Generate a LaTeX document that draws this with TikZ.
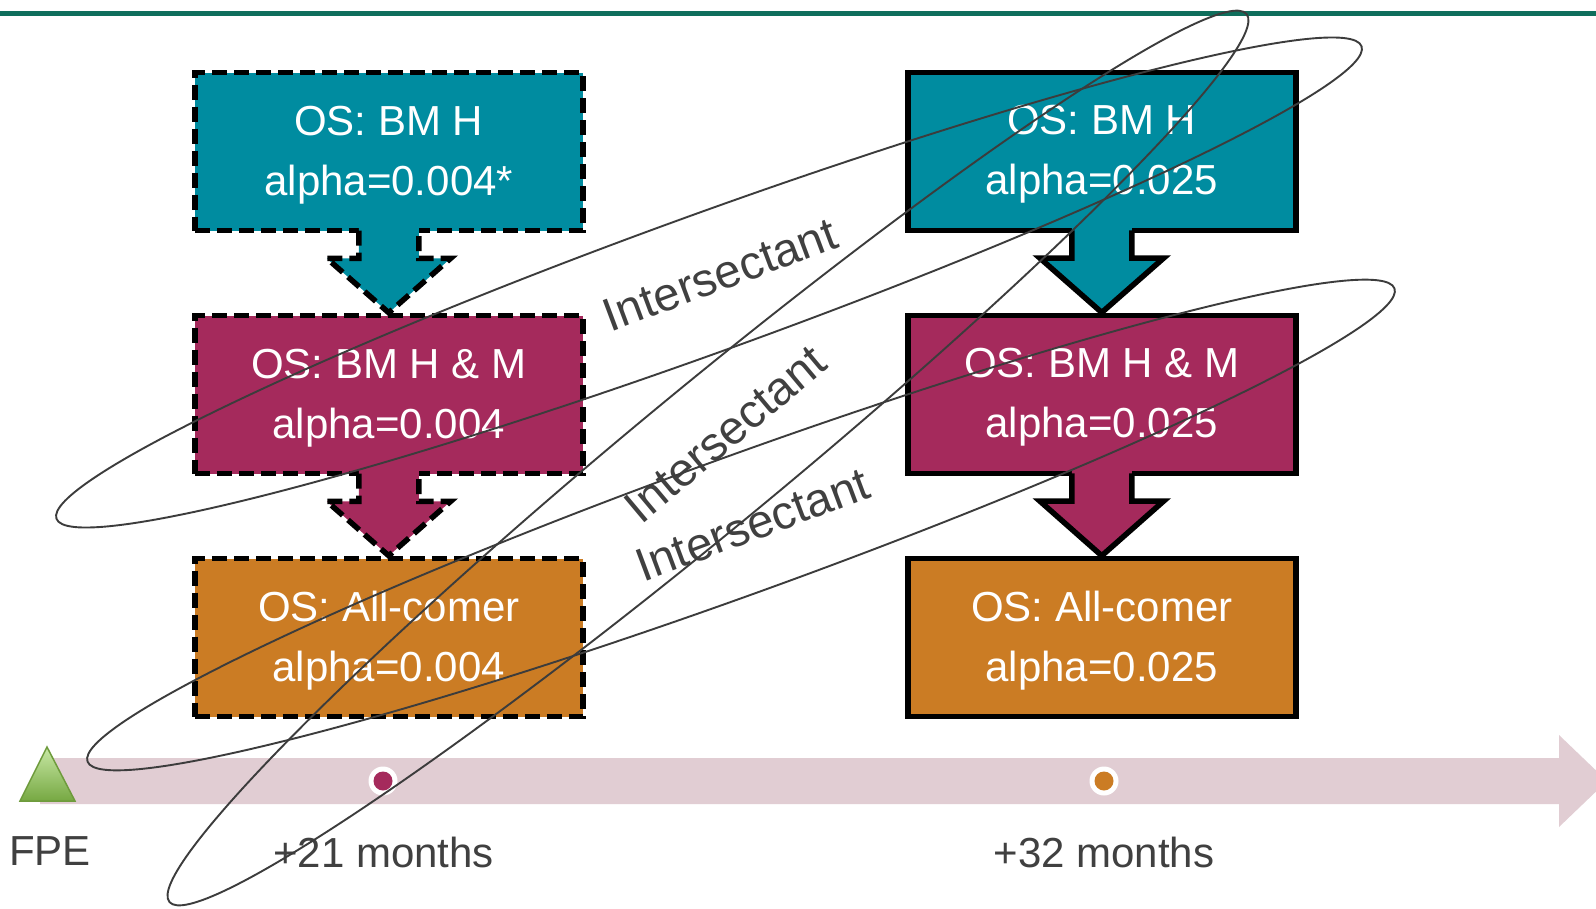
\documentclass[tikz,border=0pt]{standalone}
\usepackage{fontspec}
\setmainfont{Liberation Sans}
\usetikzlibrary{calc}
\definecolor{topline}{RGB}{15,110,92}
\definecolor{tealbox}{RGB}{0,140,160}
\definecolor{magbox}{RGB}{165,42,92}
\definecolor{orgbox}{RGB}{203,124,36}
\definecolor{bandpink}{RGB}{225,205,211}
\definecolor{txtgray}{RGB}{64,64,64}
\definecolor{ellcol}{RGB}{60,60,60}
\definecolor{trilight}{RGB}{200,232,165}
\definecolor{tridark}{RGB}{118,168,66}
\definecolor{triedge}{RGB}{110,155,60}
\newcommand{\bxfont}{\fontsize{42}{60}\selectfont}
\newcommand{\tlfont}{\fontsize{42}{50}\selectfont}
\newcommand{\isfont}{\fontsize{47}{56}\selectfont}
% #1 upper node, #2 lower node, #3 fill colour, #4 outline style
\newcommand{\flowarrow}[4]{%
  \fill[#3] ($(#1.south)+(-30,-8)$) -- ($(#1.south)+(-30,25)$) -- ($(#1.south)+(-62,25)$) -- (#2.north)
     -- ($(#1.south)+(62,25)$) -- ($(#1.south)+(30,25)$) -- ($(#1.south)+(30,-8)$) -- cycle;
  \draw[#4] ($(#1.south)+(-30,-2.7)$) -- ($(#1.south)+(-30,25)$) -- ($(#1.south)+(-62,25)$) -- (#2.north)
     -- ($(#1.south)+(62,25)$) -- ($(#1.south)+(30,25)$) -- ($(#1.south)+(30,-2.7)$);
}
\begin{document}
\begin{tikzpicture}[x=1pt,y=-1pt,
  boxbase/.style={rectangle, minimum width=388pt, minimum height=158pt, inner sep=0pt,
                  text=white, align=center, font=\bxfont, text depth=2pt},
  dbox/.style={boxbase, draw=black, line width=5.5pt, dash pattern=on 15pt off 7pt},
  sbox/.style={boxbase, draw=black, line width=5.5pt},
  dline/.style={draw=black, line width=5.5pt, dash pattern=on 15pt off 7pt, line join=miter},
  sline/.style={draw=black, line width=5.5pt, line join=miter},
  ell/.style={draw=ellcol, line width=1.9pt},
  tl/.style={text=txtgray, font=\tlfont, inner sep=0pt},
  isl/.style={text=txtgray, font=\isfont, inner sep=0pt},
  dotring/.style={circle, fill=white, minimum size=29pt, inner sep=0pt},
  dotcore/.style={circle, minimum size=19pt, inner sep=0pt}
]
\useasboundingbox (0,0) rectangle (1596,908);
\clip (0,0) rectangle (1596,908);
\fill[white] (0,0) rectangle (1596,908);
\draw[topline, line width=5pt] (0,13.5) -- (1596,13.5);

% left column (dashed)
\node[dbox, fill=tealbox] (l1) at (388.75,151.5) {OS: BM H\\alpha=0.004*};
\node[dbox, fill=magbox]  (l2) at (388.75,394.5) {OS: BM H \& M\\alpha=0.004};
\node[dbox, fill=orgbox]  (l3) at (388.75,637.5) {OS: All-comer\\alpha=0.004};
% right column (solid)
\node[sbox, fill=tealbox] (r1) at (1101.75,151.25) {OS: BM H\\alpha=0.025};
\node[sbox, fill=magbox]  (r2) at (1101.75,394.25) {OS: BM H \& M\\alpha=0.025};
\node[sbox, fill=orgbox]  (r3) at (1101.75,637.5) {OS: All-comer\\alpha=0.025};

\flowarrow{l1}{l2}{tealbox}{dline}
\flowarrow{l2}{l3}{magbox}{dline}
\flowarrow{r1}{r2}{tealbox}{sline}
\flowarrow{r2}{r3}{magbox}{sline}

% timeline
\fill[bandpink] (40,758) -- (1559,758) -- (1559,735) -- (1607,781) -- (1559,827) -- (1559,804) -- (40,804) -- cycle;
\shadedraw[top color=trilight, bottom color=tridark, draw=triedge, line width=1.5pt]
   (47,747) -- (75,801) -- (20,801) -- cycle;
\node[dotring] (m21) at (383,781) {};
\node[dotcore, fill=magbox] (m21c) at (m21) {};
\node[dotring] (m32) at (1104,781) {};
\node[dotcore, fill=orgbox] (m32c) at (m32) {};
\node[tl] (fpe) at (50,851) {FPE};
\node[tl] (t21) at (383.5,852) {+21 months};
\node[tl] (t32) at (1104,852) {+32 months};

% labels
\node[isl, rotate=20.5] (is1) at (720,274.5) {Intersectant};
\node[isl, rotate=40]   (is2) at (725,434) {Intersectant};
\node[isl, rotate=20.5] (is3) at (752.5,524.5) {Intersectant};

% ellipses
\draw[ell, rotate around={19.9:(709,282.5)}] (709,282.5) ellipse [x radius=694pt, y radius=69pt];
\draw[ell, rotate around={19.9:(741,525)}] (741,525) ellipse [x radius=695pt, y radius=69pt];
\draw[ell, rotate around={39.5:(708,458)}] (708,458) ellipse [x radius=698pt, y radius=71pt];
\end{tikzpicture}
\end{document}
